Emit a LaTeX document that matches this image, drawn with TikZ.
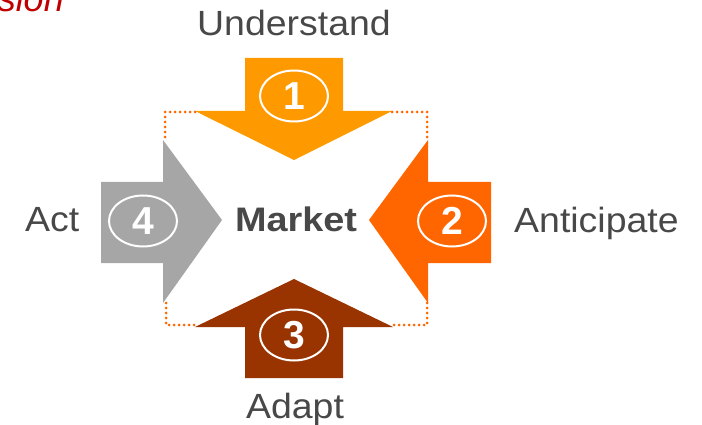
\documentclass[tikz,border=0pt]{standalone}
\usepackage{fontspec}
\setmainfont{Liberation Sans}
\usetikzlibrary{shapes.geometric}
\definecolor{cOne}{HTML}{FF9900}
\definecolor{cTwo}{HTML}{FF6600}
\definecolor{cThree}{HTML}{993300}
\definecolor{cFour}{HTML}{A6A6A6}
\definecolor{txtgray}{HTML}{484848}
\definecolor{visred}{HTML}{C00000}
\tikzset{
  numcirc/.style={ellipse, draw=white, line width=2pt, minimum width=68pt, minimum height=51pt, inner sep=0pt, text=white, font=\fontsize{39}{40}\selectfont\bfseries},
  lbl/.style={text=txtgray, font=\fontsize{35}{40}\selectfont, inner sep=0pt, xscale=1.07, transform shape},
  dotline/.style={draw=cTwo, line width=3pt, dash pattern=on 0pt off 5pt, line cap=round},
}
\begin{document}
\begin{tikzpicture}[x=1pt,y=-1pt]
\useasboundingbox (0,0) rectangle (702,425);
% arrows
\fill[cOne] (245,58) -- (343,58) -- (343,111) -- (392,111) -- (294,160) -- (195,111) -- (245,111) -- cycle;
\fill[cThree] (245,378) -- (343,378) -- (343,327) -- (393,327) -- (294,279) -- (195,327) -- (245,327) -- cycle;
\fill[cFour] (101,182) -- (163,182) -- (163,140) -- (222,220) -- (163,303) -- (163,263) -- (101,263) -- cycle;
\fill[cTwo] (491,182) -- (428,182) -- (428,140) -- (369,220) -- (428,303) -- (428,263) -- (491,263) -- cycle;
% dotted corners
\draw[dotline] (195,112) -- (165,112) -- (165,140);
\draw[dotline] (392,112) -- (427,112) -- (427,140);
\draw[dotline] (166,303) -- (166,325) -- (195,325);
\draw[dotline] (427,303) -- (427,325) -- (393,325);
% number circles
\node[numcirc] (n1) at (294,96) {1};
\node[numcirc] (n2) at (452,221) {2};
\node[numcirc] (n3) at (294,335) {3};
\node[numcirc] (n4) at (143,221) {4};
% labels
\node[lbl, anchor=base] (und) at (294,36) {Understand};
\node[lbl, anchor=base] (ada) at (295,418) {Adapt};
\node[lbl, anchor=base west] (act) at (25,231) {Act};
\node[lbl, anchor=base west] (ant) at (514,233) {Anticipate};
\node[lbl, anchor=base, xscale=1.04, font=\fontsize{34}{40}\selectfont\bfseries] (mkt) at (296,231) {Market};
\node[anchor=base east, inner sep=0pt, text=visred, font=\fontsize{36}{40}\selectfont\itshape] (vis) at (64,12) {Vision};
\end{tikzpicture}
\end{document}
